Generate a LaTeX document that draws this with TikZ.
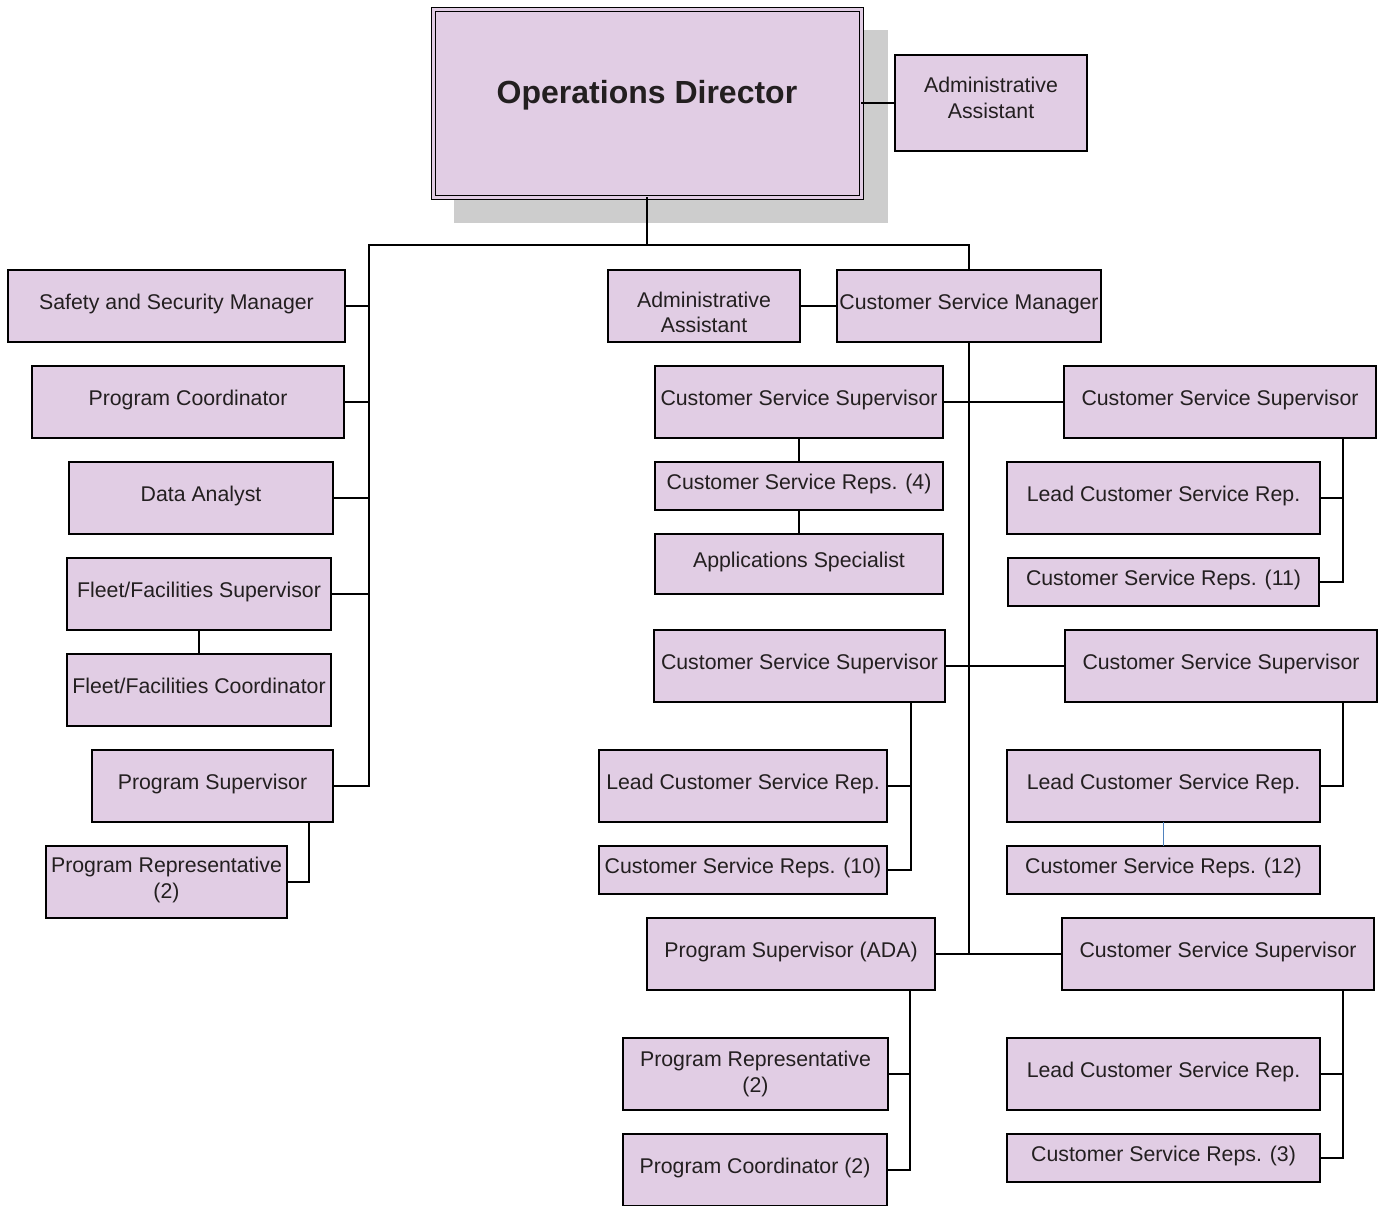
\documentclass[tikz,border=0pt]{standalone}
\usepackage{fontspec}
\setmainfont{Liberation Sans}
\usepackage{tikz}

\definecolor{lilac}{HTML}{E1CDE4}
\definecolor{ink}{HTML}{231F20}
\definecolor{shadowgrey}{HTML}{CDCDCD}
\definecolor{linkblue}{HTML}{4F81BD}

\tikzset{
  post/.style={draw=black, fill=lilac, text=ink, line width=1.6pt, inner sep=0pt, outer sep=0pt,
    anchor=north west, align=center, font=\fontsize{21.3}{25.5}\selectfont},
  oneline/.style={text height=15pt, text depth=8pt},
  wire/.style={line width=1.8pt},
}

\begin{document}
\begin{tikzpicture}[x=1pt, y=-1pt]
    \useasboundingbox (0,0) rectangle (1383,1205);
    % shadow behind the director
    \fill[shadowgrey] (454,30) rectangle (888,223);
    \node[post, anchor=center, double=lilac, double distance=3pt, line width=1pt,
      minimum width=428pt, minimum height=188pt, text height=23pt, text depth=22pt,
      font=\bfseries\fontsize{32}{38}\selectfont] (od) at (647,103) {Operations Director};
    \node[post, text depth=10pt, minimum width=192pt, minimum height=96pt] (aa1) at (895,55) {Administrative\\Assistant};

    % left column
    \node[post, oneline, minimum width=337pt, minimum height=72pt] (ssm) at (8,270) {Safety and Security Manager};
    \node[post, oneline, minimum width=312pt, minimum height=72pt] (pc) at (32,366) {Program Coordinator};
    \node[post, oneline, minimum width=264pt, minimum height=72pt] (da) at (69,462) {Data Analyst};
    \node[post, oneline, minimum width=264pt, minimum height=72pt] (ffs) at (67,558) {Fleet/Facilities Supervisor};
    \node[post, oneline, minimum width=264pt, minimum height=72pt] (ffc) at (67,654) {Fleet/Facilities Coordinator};
    \node[post, oneline, minimum width=241pt, minimum height=72pt] (ps) at (92,750) {Program Supervisor};
    \node[post, text depth=8.5pt, minimum width=241pt, minimum height=72pt] (pr) at (46,846) {Program Representative\\(2)};

    % customer service
    \node[post, text height=53pt, text depth=0pt, minimum width=192pt, minimum height=72pt] (aa2) at (608,270) {Administrative\\Assistant};
    \node[post, oneline, minimum width=264pt, minimum height=72pt] (csm) at (837,270) {Customer Service Manager};

    \node[post, oneline, minimum width=288pt, minimum height=72pt] (cssa) at (655,366) {Customer Service Supervisor};
    \node[post, oneline, minimum width=288pt, minimum height=48pt] (csra) at (655,462) {Customer Service Reps. (4)};
    \node[post, oneline, minimum width=288pt, minimum height=60pt] (apps) at (655,534) {Applications Specialist};

    \node[post, oneline, minimum width=312pt, minimum height=72pt] (cssb) at (1064,366) {Customer Service Supervisor};
    \node[post, oneline, minimum width=313pt, minimum height=72pt] (lcsrb) at (1007,462) {Lead Customer Service Rep.};
    \node[post, oneline, minimum width=311pt, minimum height=48pt] (csrb) at (1008,558) {Customer Service Reps. (11)};

    \node[post, oneline, minimum width=291pt, minimum height=72pt] (cssc) at (654,630) {Customer Service Supervisor};
    \node[post, oneline, minimum width=288pt, minimum height=72pt] (lcsrc) at (599,750) {Lead Customer Service Rep.};
    \node[post, oneline, minimum width=288pt, minimum height=48pt] (csrc) at (599,846) {Customer Service Reps. (10)};

    \node[post, oneline, minimum width=312pt, minimum height=72pt] (cssd) at (1065,630) {Customer Service Supervisor};
    \node[post, oneline, minimum width=313pt, minimum height=72pt] (lcsrd) at (1007,750) {Lead Customer Service Rep.};
    \node[post, oneline, minimum width=313pt, minimum height=48pt] (csrd) at (1007,846) {Customer Service Reps. (12)};

    \node[post, oneline, minimum width=288pt, minimum height=72pt] (psada) at (647,918) {Program Supervisor (ADA)};
    \node[post, minimum width=265pt, minimum height=72pt] (pre) at (623,1038) {Program Representative\\(2)};
    \node[post, oneline, minimum width=264pt, minimum height=72pt] (pce) at (623,1134) {Program Coordinator (2)};

    \node[post, oneline, minimum width=312pt, minimum height=72pt] (csse) at (1062,918) {Customer Service Supervisor};
    \node[post, oneline, minimum width=313pt, minimum height=72pt] (lcsre) at (1007,1038) {Lead Customer Service Rep.};
    \node[post, oneline, minimum width=313pt, minimum height=48pt] (csre) at (1007,1134) {Customer Service Reps. (3)};

    % connectors
    \coordinate (hub) at (647,245);
    \coordinate (lbus) at (369,245);
    \draw[wire] (od.east) -- (aa1.west);
    \draw[wire] (od.south) -- (hub);
    \draw[wire] (hub) -| (csm.north);
    \draw[wire] (hub) -- (lbus) |- (ps.east);
    \foreach \n in {ssm,pc,da,ffs}
        \draw[wire] (\n.east) -- (\n.east -| lbus);
    \draw[wire] (ffs.south) -- (ffc.north);
    \draw[wire] ([xshift=-24pt]ps.south east) |- (pr.east);

    \draw[wire] (aa2.east) -- (csm.west);
    \draw[wire] (csm.south) -- (csm.south |- psada.east);
    \draw[wire] (cssa.east) -- (cssb.west);
    \draw[wire] (cssc.east) -- (cssd.west);
    \draw[wire] (psada.east) -- (csse.west);
    \draw[wire] (cssa.south) -- (csra.north);
    \draw[wire] (csra.south) -- (apps.north);
    \draw[wire] ([xshift=-33pt]cssb.south east) |- (csrb.east);
    \draw[wire] (lcsrb.east) -| ([xshift=-33pt]cssb.south east);
    \draw[wire] ([xshift=-34pt]cssc.south east) |- (csrc.east);
    \draw[wire] (lcsrc.east) -| ([xshift=-34pt]cssc.south east);
    \draw[wire] ([xshift=-34pt]cssd.south east) |- (lcsrd.east);
    \draw[linkblue, line width=1.5pt] (lcsrd.south) -- (csrd.north);
    \draw[wire] ([xshift=-25pt]psada.south east) |- (pce.east);
    \draw[wire] (pre.east) -| ([xshift=-25pt]psada.south east);
    \draw[wire] ([xshift=-31pt]csse.south east) |- (csre.east);
    \draw[wire] (lcsre.east) -| ([xshift=-31pt]csse.south east);
\end{tikzpicture}
\end{document}
